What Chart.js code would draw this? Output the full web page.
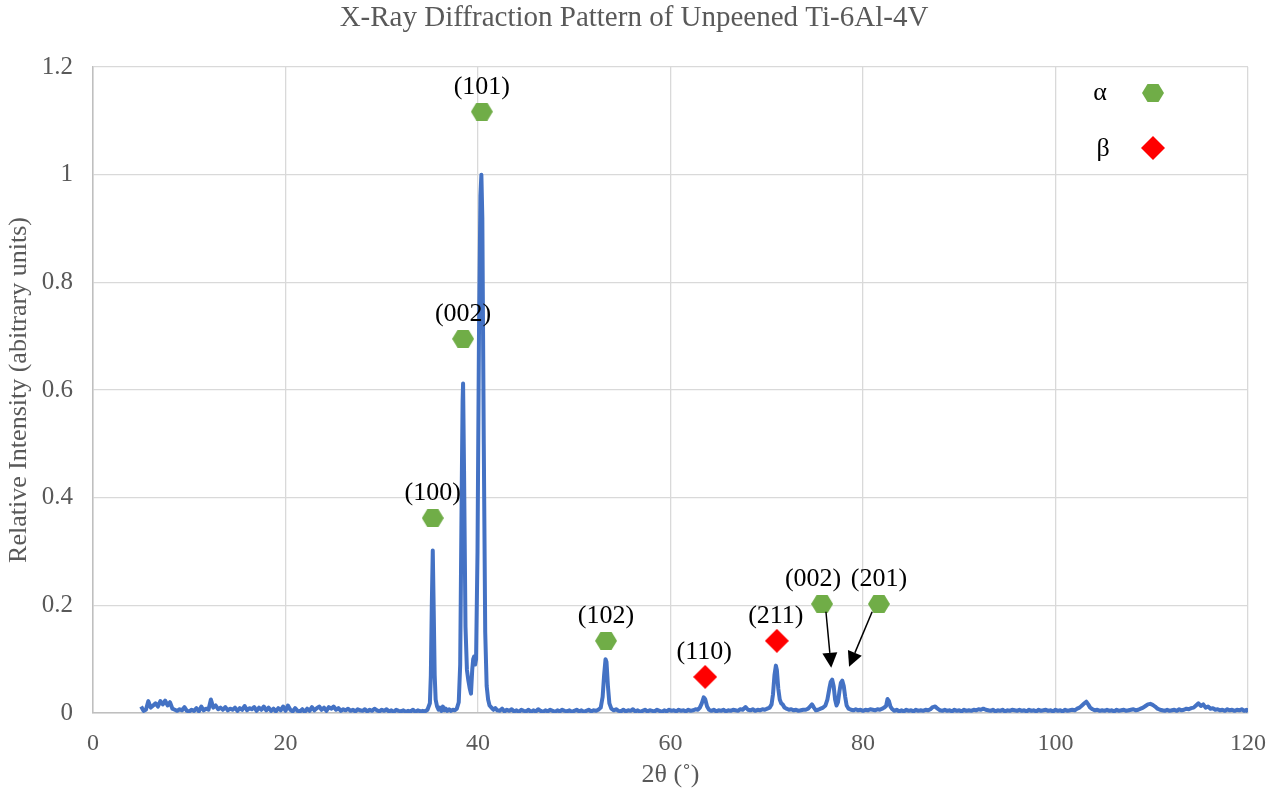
<!DOCTYPE html>
<html>
<head>
<meta charset="utf-8">
<script src="https://cdn.jsdelivr.net/npm/chart.js@4/dist/chart.umd.min.js"></script>
<style>
  html, body { margin: 0; padding: 0; background: #fff; }
  #wrap { width: 1285px; height: 794px; }
</style>
</head>
<body>
<div id="wrap"><canvas id="xrd"></canvas></div>
<script>
// scan: 2-theta (deg) and relative intensity
const twoTheta = [
  5.00, 5.25, 5.50, 5.75, 6.00, 6.25, 6.50, 6.75, 7.00, 7.25,
  7.50, 7.75, 8.00, 8.25, 8.50, 8.75, 9.00, 9.25, 9.50, 9.75,
  10.00, 10.25, 10.50, 10.75, 11.00, 11.25, 11.50, 11.75, 12.00, 12.25,
  12.50, 12.75, 13.00, 13.25, 13.50, 13.75, 14.00, 14.25, 14.50, 14.75,
  15.00, 15.25, 15.50, 15.75, 16.00, 16.25, 16.50, 16.75, 17.00, 17.25,
  17.50, 17.75, 18.00, 18.25, 18.50, 18.75, 19.00, 19.25, 19.50, 19.75,
  20.00, 20.25, 20.50, 20.75, 21.00, 21.25, 21.50, 21.75, 22.00, 22.25,
  22.50, 22.75, 23.00, 23.25, 23.50, 23.75, 24.00, 24.25, 24.50, 24.75,
  25.00, 25.25, 25.50, 25.75, 26.00, 26.25, 26.50, 26.75, 27.00, 27.25,
  27.50, 27.75, 28.00, 28.25, 28.50, 28.75, 29.00, 29.25, 29.50, 29.75,
  30.00, 30.25, 30.50, 30.75, 31.00, 31.25, 31.50, 31.75, 32.00, 32.25,
  32.50, 32.75, 33.00, 33.25, 33.50, 33.75, 34.00, 34.25, 34.50, 34.75,
  35.00, 35.10, 35.20, 35.30, 35.40, 35.50, 35.60, 35.75, 35.90, 36.05,
  36.20, 36.35, 36.50, 36.65, 36.80, 37.00, 37.20, 37.40, 37.60, 37.80,
  38.00, 38.15, 38.30, 38.40, 38.45, 38.55, 38.70, 38.85, 39.00, 39.15,
  39.27, 39.40, 39.50, 39.60, 39.70, 39.80, 39.95, 40.10, 40.25, 40.35,
  40.45, 40.60, 40.75, 40.90, 41.05, 41.20, 41.40, 41.60, 41.80, 42.00,
  42.25, 42.50, 42.75, 43.00, 43.25, 43.50, 43.75, 44.00, 44.25, 44.50,
  44.75, 45.00, 45.25, 45.50, 45.75, 46.00, 46.25, 46.50, 46.75, 47.00,
  47.25, 47.50, 47.75, 48.00, 48.25, 48.50, 48.75, 49.00, 49.25, 49.50,
  49.75, 50.00, 50.25, 50.50, 50.75, 51.00, 51.25, 51.50, 51.75, 52.00,
  52.25, 52.50, 52.75, 52.95, 53.10, 53.25, 53.35, 53.50, 53.65, 53.85,
  54.10, 54.35, 54.60, 54.85, 55.10, 55.35, 55.60, 55.85, 56.10, 56.35,
  56.60, 56.85, 57.10, 57.35, 57.60, 57.85, 58.10, 58.35, 58.60, 58.85,
  59.10, 59.35, 59.60, 59.85, 60.10, 60.35, 60.60, 60.85, 61.10, 61.35,
  61.60, 61.85, 62.10, 62.35, 62.60, 62.85, 63.05, 63.25, 63.45, 63.60,
  63.80, 64.00, 64.25, 64.50, 64.75, 65.00, 65.25, 65.50, 65.75, 66.00,
  66.25, 66.50, 66.75, 67.00, 67.25, 67.50, 67.80, 68.05, 68.30, 68.55,
  68.80, 69.05, 69.30, 69.55, 69.80, 70.05, 70.30, 70.50, 70.65, 70.80,
  70.95, 71.05, 71.20, 71.35, 71.50, 71.65, 71.85, 72.05, 72.30, 72.55,
  72.80, 73.05, 73.30, 73.55, 73.80, 74.05, 74.30, 74.50, 74.70, 74.90,
  75.10, 75.35, 75.60, 75.85, 76.10, 76.30, 76.50, 76.65, 76.80, 76.95,
  77.10, 77.25, 77.40, 77.55, 77.70, 77.85, 78.00, 78.15, 78.30, 78.50,
  78.75, 79.00, 79.25, 79.50, 79.75, 80.00, 80.25, 80.50, 80.75, 81.00,
  81.25, 81.50, 81.75, 82.00, 82.20, 82.40, 82.55, 82.70, 82.85, 83.00,
  83.25, 83.50, 83.75, 84.00, 84.25, 84.50, 84.75, 85.00, 85.25, 85.50,
  85.75, 86.00, 86.25, 86.50, 86.75, 87.00, 87.25, 87.50, 87.75, 88.00,
  88.25, 88.50, 88.75, 89.00, 89.25, 89.50, 89.75, 90.00, 90.25, 90.50,
  90.75, 91.00, 91.25, 91.50, 91.75, 92.00, 92.25, 92.50, 92.75, 93.00,
  93.25, 93.50, 93.75, 94.00, 94.25, 94.50, 94.75, 95.00, 95.25, 95.50,
  95.75, 96.00, 96.25, 96.50, 96.75, 97.00, 97.25, 97.50, 97.75, 98.00,
  98.25, 98.50, 98.75, 99.00, 99.25, 99.50, 99.75, 100.00, 100.25, 100.50,
  100.75, 101.00, 101.25, 101.50, 101.75, 102.00, 102.25, 102.50, 102.75, 103.00,
  103.20, 103.40, 103.60, 103.85, 104.10, 104.35, 104.60, 104.85, 105.10, 105.35,
  105.60, 105.85, 106.10, 106.35, 106.60, 106.85, 107.10, 107.35, 107.60, 107.85,
  108.10, 108.35, 108.60, 108.85, 109.10, 109.35, 109.60, 109.85, 110.10, 110.35,
  110.60, 110.85, 111.10, 111.35, 111.60, 111.85, 112.10, 112.35, 112.60, 112.85,
  113.10, 113.35, 113.60, 113.85, 114.10, 114.35, 114.60, 114.85, 115.10, 115.35,
  115.60, 115.85, 116.10, 116.35, 116.60, 116.85, 117.10, 117.35, 117.60, 117.85,
  118.10, 118.35, 118.60, 118.85, 119.10, 119.35, 119.60, 119.85, 120.00
];

const intensity = [
  .012, .004, .006, .022, .010, .014, .018, .012, .022, .016,
  .023, .014, .020, .008, .006, .004, .007, .005, .011, .004,
  .003, .006, .004, .009, .003, .012, .005, .008, .006, .025,
  .010, .014, .007, .010, .006, .011, .005, .008, .006, .010,
  .004, .009, .006, .013, .005, .009, .007, .011, .004, .010,
  .006, .012, .005, .010, .004, .008, .003, .009, .005, .012,
  .004, .014, .006, .003, .009, .004, .003, .007, .002, .008,
  .004, .011, .005, .009, .012, .006, .010, .004, .011, .008,
  .012, .006, .009, .004, .007, .005, .008, .004, .006, .003,
  .007, .005, .004, .007, .003, .006, .004, .008, .005, .003,
  .006, .004, .007, .003, .005, .002, .006, .004, .003, .005,
  .002, .004, .003, .006, .002, .005, .003, .004, .003, .006,
  .018, .070, .200, .302, .190, .070, .025, .012, .006, .010,
  .004, .012, .005, .008, .004, .007, .004, .006, .005, .008,
  .020, .090, .400, .580, .612, .450, .160, .080, .060, .045,
  .036, .080, .100, .105, .090, .100, .300, .700, .960, 1.000,
  .920, .500, .150, .050, .025, .014, .010, .006, .009, .005,
  .004, .008, .003, .006, .004, .007, .003, .005, .002, .006,
  .004, .003, .006, .002, .005, .003, .007, .004, .002, .005,
  .003, .006, .004, .002, .005, .003, .006, .004, .003, .005,
  .002, .004, .006, .003, .005, .002, .004, .006, .003, .005,
  .004, .006, .010, .030, .070, .100, .095, .050, .018, .008,
  .005, .007, .004, .003, .006, .003, .005, .004, .007, .003,
  .005, .002, .004, .006, .003, .005, .004, .003, .006, .004,
  .002, .005, .003, .006, .004, .005, .003, .006, .004, .005,
  .003, .006, .004, .005, .007, .006, .010, .018, .029, .026,
  .012, .006, .004, .006, .003, .005, .004, .006, .003, .005,
  .004, .006, .005, .004, .007, .006, .011, .006, .005, .007,
  .004, .006, .005, .007, .006, .008, .010, .016, .035, .070,
  .088, .080, .045, .025, .018, .016, .010, .008, .006, .007,
  .005, .006, .004, .005, .006, .006, .008, .012, .016, .010,
  .005, .006, .008, .010, .014, .025, .045, .058, .062, .050,
  .025, .014, .020, .040, .056, .060, .050, .030, .014, .008,
  .006, .005, .007, .005, .006, .004, .006, .005, .007, .006,
  .005, .007, .006, .008, .010, .013, .026, .022, .012, .008,
  .004, .006, .003, .005, .003, .006, .004, .005, .003, .006,
  .004, .005, .004, .006, .005, .007, .011, .012, .008, .005,
  .004, .006, .004, .005, .003, .006, .004, .005, .003, .006,
  .004, .005, .004, .006, .005, .007, .006, .008, .006, .005,
  .004, .006, .003, .005, .004, .006, .003, .005, .004, .006,
  .005, .004, .006, .004, .005, .003, .006, .004, .005, .003,
  .006, .004, .005, .006, .004, .005, .003, .006, .004, .005,
  .003, .006, .004, .005, .006, .005, .008, .010, .014, .018,
  .021, .016, .010, .007, .005, .006, .004, .005, .004, .006,
  .004, .005, .003, .006, .004, .005, .006, .004, .005, .006,
  .007, .005, .006, .008, .010, .013, .016, .017, .015, .012,
  .008, .006, .005, .004, .006, .004, .005, .006, .004, .007,
  .005, .006, .008, .007, .009, .010, .014, .018, .013, .016,
  .010, .012, .008, .009, .006, .007, .005, .006, .004, .007,
  .005, .006, .004, .006, .005, .007, .004, .006, .002
];

// indexed reflections
const alphaHkl = ['(100)', '(002)', '(101)', '(102)', '(002)', '(201)'];
const alphaX = [35.3, 38.45, 40.4, 53.3, 75.75, 81.65];
const alphaY = [0.362, 0.695, 1.117, 0.134, 0.2025, 0.2025];

const betaHkl = ['(110)', '(211)'];
const betaX = [63.6, 71.05];
const betaY = [0.067, 0.134];

// callout arrows for the two close alpha peaks
const arrowFrom = [[76.15, 0.188], [80.95, 0.188]];
const arrowTo = [[76.7, 0.084], [78.55, 0.086]];

const xTicks = { min: 0, max: 120, step: 20 };
const yTicks = { min: 0, max: 1.2, step: 0.2 };

const SERIF = '"Liberation Serif", "Times New Roman", serif';
const GREY = '#595959';

function hexagon(w, h, color) {
  const c = document.createElement('canvas');
  c.width = w; c.height = h;
  const g = c.getContext('2d');
  g.fillStyle = color;
  g.beginPath();
  g.moveTo(0, h / 2);
  g.lineTo(w / 4, 0);
  g.lineTo(w * 3 / 4, 0);
  g.lineTo(w, h / 2);
  g.lineTo(w * 3 / 4, h);
  g.lineTo(w / 4, h);
  g.closePath();
  g.fill();
  return c;
}

function diamond(s, color) {
  const c = document.createElement('canvas');
  c.width = s; c.height = s;
  const g = c.getContext('2d');
  g.fillStyle = color;
  g.beginPath();
  g.moveTo(s / 2, 0);
  g.lineTo(s, s / 2);
  g.lineTo(s / 2, s);
  g.lineTo(0, s / 2);
  g.closePath();
  g.fill();
  return c;
}

const hexMark = hexagon(22, 18, '#70AD47');
const diaMark = diamond(24, '#FF0000');

const scan = twoTheta.map((t, i) => ({ x: t, y: intensity[i] }));
const alphaPts = alphaX.map((t, i) => ({ x: t, y: alphaY[i] }));
const betaPts = betaX.map((t, i) => ({ x: t, y: betaY[i] }));

const decor = {
  id: 'decor',
  afterDatasetsDraw(chart) {
    const { ctx, scales: { x, y } } = chart;
    ctx.save();

    // hkl labels above each marker
    ctx.fillStyle = '#000';
    ctx.font = '26px ' + SERIF;
    ctx.textAlign = 'center';
    ctx.textBaseline = 'middle';
    const nudge = { 4: -9 };
    alphaHkl.forEach((s, i) => {
      ctx.fillText(s, x.getPixelForValue(alphaX[i]) + (nudge[i] || 0), y.getPixelForValue(alphaY[i]) - 25);
    });
    betaHkl.forEach((s, i) => {
      ctx.fillText(s, x.getPixelForValue(betaX[i]) - 1, y.getPixelForValue(betaY[i]) - 25);
    });

    // arrows
    ctx.strokeStyle = '#000';
    ctx.fillStyle = '#000';
    ctx.lineWidth = 1.5;
    arrowFrom.forEach((p, i) => {
      const x0 = x.getPixelForValue(p[0]), y0 = y.getPixelForValue(p[1]);
      const x1 = x.getPixelForValue(arrowTo[i][0]), y1 = y.getPixelForValue(arrowTo[i][1]);
      const a = Math.atan2(y1 - y0, x1 - x0);
      const len = 15, half = 7.5;
      const bx = x1 - len * Math.cos(a), by = y1 - len * Math.sin(a);
      ctx.beginPath();
      ctx.moveTo(x0, y0);
      ctx.lineTo(bx, by);
      ctx.stroke();
      ctx.beginPath();
      ctx.moveTo(x1, y1);
      ctx.lineTo(bx + half * Math.sin(a), by - half * Math.cos(a));
      ctx.lineTo(bx - half * Math.sin(a), by + half * Math.cos(a));
      ctx.closePath();
      ctx.fill();
    });

    // phase key
    ctx.font = '26px ' + SERIF;
    ctx.fillText('α', 1100, 93);
    ctx.fillText('β', 1103, 149);
    ctx.drawImage(hexMark, 1153 - 11, 93 - 9);
    ctx.drawImage(diaMark, 1153 - 12, 148 - 12);

    // title
    ctx.fillStyle = GREY;
    ctx.font = '29px ' + SERIF;
    ctx.fillText('X-Ray Diffraction Pattern of Unpeened Ti-6Al-4V', 634, 18);
    ctx.restore();
  }
};

new Chart(document.getElementById('xrd'), {
  type: 'line',
  data: {
    datasets: [
      {
        data: scan,
        borderColor: '#4472C4',
        borderWidth: 4,
        borderJoinStyle: 'round',
        pointRadius: 0,
        tension: 0,
        fill: false
      },
      {
        data: alphaPts,
        showLine: false,
        pointStyle: hexMark,
        pointRadius: 10,
        pointHoverRadius: 10
      },
      {
        data: betaPts,
        showLine: false,
        pointStyle: diaMark,
        pointRadius: 10,
        pointHoverRadius: 10
      }
    ]
  },
  options: {
    responsive: true,
    maintainAspectRatio: false,
    animation: false,
    events: [],
    layout: { padding: { left: 0, top: 67, right: 37, bottom: 0 } },
    plugins: {
      legend: { display: false },
      tooltip: { enabled: false },
      title: { display: false }
    },
    scales: {
      x: {
        type: 'linear',
        min: xTicks.min,
        max: xTicks.max,
        ticks: {
          stepSize: xTicks.step,
          color: GREY,
          font: { family: SERIF, size: 24 },
          padding: 16,
          maxRotation: 0
        },
        grid: { color: '#d9d9d9', lineWidth: 1.3, drawTicks: false },
        border: { color: '#bfbfbf', width: 1.5 },
        title: {
          display: true,
          text: '2θ (˚)',
          color: GREY,
          font: { family: SERIF, size: 26 },
          padding: { top: 0, bottom: 3 }
        },
        afterFit(s) { s.height = 81; }
      },
      y: {
        min: yTicks.min,
        max: yTicks.max,
        ticks: {
          stepSize: yTicks.step,
          color: GREY,
          font: { family: SERIF, size: 25 },
          padding: 20,
          callback: v => String(Math.round(v * 10) / 10)
        },
        grid: { color: '#d9d9d9', lineWidth: 1.3, drawTicks: false },
        border: { color: '#bfbfbf', width: 1.5 },
        title: {
          display: true,
          text: 'Relative Intensity (abitrary units)',
          color: GREY,
          font: { family: SERIF, size: 26 },
          padding: { top: 4, bottom: 0 }
        },
        afterFit(s) { s.width = 93; }
      }
    }
  },
  plugins: [decor]
});
</script>
</body>
</html>
